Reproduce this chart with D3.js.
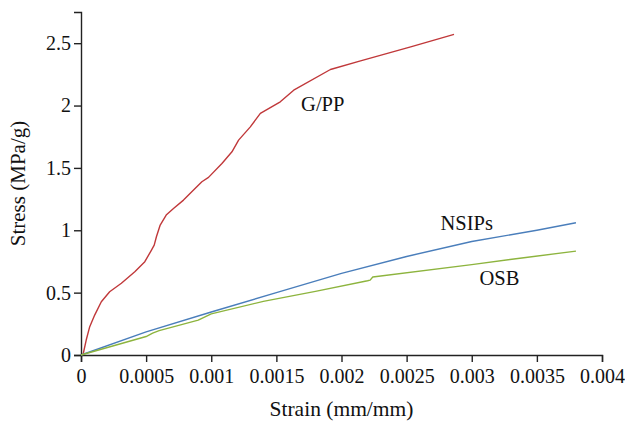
<!DOCTYPE html>
<html>
<head>
<meta charset="utf-8">
<script src="https://cdn.jsdelivr.net/npm/d3@7"></script>
<style>
  body { margin: 0; background: #fff; }
  svg { display: block; }
  svg text { font-family: "Liberation Serif", "DejaVu Serif", "Times New Roman", serif; fill: #111; }
  .axis path, .axis line { stroke: #222; stroke-width: 1.4px; }
  .axis text { font-size: 20px; }
</style>
</head>
<body>
<div id="chart"></div>
<script>
// strain (mm/mm) and stress (MPa/g)
const gppStrain = [0.000015, 0.00004, 0.000067, 0.000105, 0.000156, 0.00022, 0.00031, 0.000413, 0.00049, 0.000541,
  0.000562, 0.000579, 0.000608, 0.000654, 0.00071, 0.000787, 0.000864, 0.000928, 0.000979, 0.001082,
  0.001159, 0.00121, 0.0013, 0.001377, 0.00153, 0.001633, 0.001915, 0.002146, 0.002531, 0.002864];
const gppStress = [0, 0.12, 0.227, 0.32, 0.427, 0.507, 0.575, 0.667, 0.748, 0.841,
  0.881, 0.948, 1.042, 1.122, 1.175, 1.242, 1.322, 1.389, 1.424, 1.536,
  1.629, 1.723, 1.829, 1.937, 2.03, 2.123, 2.289, 2.358, 2.47, 2.57];

const nsipStrain = [0, 0.0005, 0.001, 0.0015, 0.002, 0.0025, 0.003, 0.0035, 0.0038];
const nsipStress = [0, 0.185, 0.345, 0.5, 0.655, 0.79, 0.91, 1.0, 1.06];

const osbStrain = [0, 0.0005, 0.00055, 0.0006, 0.0009, 0.001, 0.0014, 0.0018, 0.0022, 0.00222,
  0.00224, 0.003, 0.0034, 0.0038];
const osbStress = [0, 0.148, 0.175, 0.195, 0.28, 0.33, 0.43, 0.51, 0.595, 0.6,
  0.625, 0.725, 0.78, 0.833];

const seriesNames = ['G/PP', 'NSIPs', 'OSB'];
const xTicks = [0, 0.0005, 0.001, 0.0015, 0.002, 0.0025, 0.003, 0.0035, 0.004];
const xTickLabels = ['0', '0.0005', '0.001', '0.0015', '0.002', '0.0025', '0.003', '0.0035', '0.004'];
const yTicks = [0, 0.5, 1, 1.5, 2, 2.5];
const yTickLabels = ['0', '0.5', '1', '1.5', '2', '2.5'];

const width = 625, height = 423;
const margin = { top: 12, right: 23, bottom: 68, left: 81 };

const svg = d3.select('#chart').append('svg')
  .attr('width', width)
  .attr('height', height);

const x = d3.scaleLinear()
  .domain([0, 0.004])
  .range([margin.left, width - margin.right]);

const y = d3.scaleLinear()
  .domain([0, 2.75])
  .range([height - margin.bottom, margin.top]);

svg.append('g')
  .attr('class', 'axis')
  .attr('transform', 'translate(0,' + y(0) + ')')
  .call(d3.axisBottom(x)
    .tickValues(xTicks)
    .tickFormat((d, i) => xTickLabels[i])
    .tickSizeOuter(0)
    .tickSize(7)
    .tickPadding(7))
  .attr('font-family', null);

svg.append('g')
  .attr('class', 'axis')
  .attr('transform', 'translate(' + x(0) + ',0)')
  .call(d3.axisLeft(y)
    .tickValues(yTicks)
    .tickFormat((d, i) => yTickLabels[i])
    .tickSizeOuter(0)
    .tickSize(7)
    .tickPadding(3))
  .attr('font-family', null);

const line = d3.line()
  .x(d => x(d[0]))
  .y(d => y(d[1]));

const series = [
  { name: seriesNames[0], xs: gppStrain, ys: gppStress, color: '#c0383a' },
  { name: seriesNames[1], xs: nsipStrain, ys: nsipStress, color: '#4a7ebb' },
  { name: seriesNames[2], xs: osbStrain, ys: osbStress, color: '#8db43e' }
];

svg.selectAll('path.series')
  .data(series)
  .enter()
  .append('path')
  .attr('class', 'series')
  .attr('fill', 'none')
  .attr('stroke', d => d.color)
  .attr('stroke-width', 1.4)
  .attr('stroke-linejoin', 'round')
  .attr('d', d => line(d.xs.map((v, i) => [v, d.ys[i]])));

// curve labels
const labelPos = [[0.00169, 1.955], [0.00276, 1.0], [0.00306, 0.56]];
svg.selectAll('text.lbl')
  .data(seriesNames)
  .enter()
  .append('text')
  .attr('class', 'lbl')
  .attr('x', (d, i) => x(labelPos[i][0]))
  .attr('y', (d, i) => y(labelPos[i][1]))
  .attr('font-size', 20.5)
  .text(d => d);

svg.append('text')
  .attr('x', (x(0) + x(0.004)) / 2)
  .attr('y', 416)
  .attr('text-anchor', 'middle')
  .attr('font-size', 21.5)
  .text('Strain (mm/mm)');

svg.append('text')
  .attr('transform', 'translate(25,' + ((y(0) + y(2.75)) / 2) + ') rotate(-90)')
  .attr('text-anchor', 'middle')
  .attr('font-size', 21)
  .text('Stress (MPa/g)');
</script>
</body>
</html>
